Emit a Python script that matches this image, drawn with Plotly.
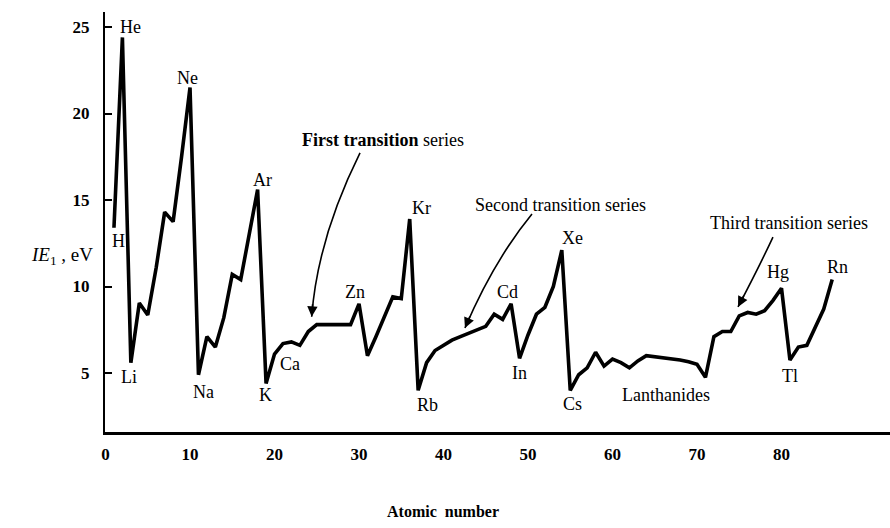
import plotly.graph_objects as go

# ---- data ----
atomic_number = list(range(1, 87))
symbols = ["H","He","Li","Be","B","C","N","O","F","Ne","Na","Mg","Al","Si","P","S","Cl","Ar",
           "K","Ca","Sc","Ti","V","Cr","Mn","Fe","Co","Ni","Cu","Zn","Ga","Ge","As","Se","Br","Kr",
           "Rb","Sr","Y","Zr","Nb","Mo","Tc","Ru","Rh","Pd","Ag","Cd","In","Sn","Sb","Te","I","Xe",
           "Cs","Ba","La","Ce","Pr","Nd","Pm","Sm","Eu","Gd","Tb","Dy","Ho","Er","Tm","Yb","Lu",
           "Hf","Ta","W","Re","Os","Ir","Pt","Au","Hg","Tl","Pb","Bi","Po","At","Rn"]
ie1_ev = [13.4, 24.4,
          5.6, 9.05, 8.35, 11.1, 14.3, 13.75, 17.5, 21.5,
          4.9, 7.1, 6.5, 8.2, 10.7, 10.4, 13.0, 15.6,
          4.4, 6.1, 6.7, 6.8, 6.6, 7.4, 7.8, 7.8, 7.8, 7.8, 7.8, 9.0, 6.0, 7.1, 8.3, 9.4, 9.3, 13.9,
          4.0, 5.6, 6.3, 6.6, 6.9, 7.1, 7.3, 7.5, 7.7, 8.4, 8.1, 9.0, 5.85, 7.2, 8.4, 8.8, 10.0, 12.1,
          4.0, 4.9, 5.3, 6.2, 5.4, 5.8, 5.6, 5.3, 5.7, 6.0, 5.95, 5.9, 5.85, 5.75, 5.65, 5.5, 4.75,
          7.1, 7.4, 7.4, 8.3, 8.5, 8.4, 8.6, 9.2, 9.9, 5.75, 6.5, 6.6, 7.6, 8.7, 10.4]

x_ticks = [0, 10, 20, 30, 40, 50, 60, 70, 80]
y_ticks = [5, 10, 15, 20, 25]

# labels placed in (atomic number, eV) units
label_text = ["He", "Ne", "Ar", "Kr", "Zn", "Cd", "Xe", "Hg", "Rn",
              "H", "Li", "Na", "K", "Ca", "Rb", "In", "Cs", "Tl", "Lanthanides"]
label_x = [2.9, 9.76, 18.52, 37.34, 29.53, 47.63, 55.21, 79.59, 86.57,
           1.48, 2.78, 11.54, 18.88, 21.83, 38.05, 49.05, 55.21, 81.01, 66.33]
label_y = [25.0, 22.05, 16.16, 14.54, 9.68, 9.68, 12.80, 10.84, 11.13,
           12.63, 4.77, 3.90, 3.73, 5.52, 3.15, 5.00, 3.21, 4.83, 3.73]

series_text = ["<b>First transition</b> series", "Second transition series", "Third transition series"]
series_x = [32.84, 53.79, 80.89]
series_y = [18.47, 14.71, 13.67]

# curved arrows: start, control, tip (atomic number, eV) + arrow-head pixel offset
arrows = [
    ((30.12, 17.72), (25.09, 12.77), (24.40, 8.25), (1, -14)),
    ((50.47, 14.19), (45.92, 11.47), (42.54, 7.60), (5.5, -13)),
    ((78.99, 12.86), (77.28, 11.07), (74.85, 8.82), (6.5, -12.5)),
]

SERIF = "Liberation Serif, Times New Roman, serif"

fig = go.Figure()
fig.add_trace(go.Scatter(
    x=atomic_number, y=ie1_ev, mode="lines", text=symbols,
    line=dict(color="black", width=3.6), hoverinfo="text+x+y", showlegend=False))

annotations = []
for t, x, y in zip(label_text, label_x, label_y):
    annotations.append(dict(x=x, y=y, text=t, showarrow=False, xref="x", yref="y",
                            font=dict(family=SERIF, size=18, color="black")))
for t, x, y in zip(series_text, series_x, series_y):
    annotations.append(dict(x=x, y=y, text=t, showarrow=False, xref="x", yref="y",
                            font=dict(family=SERIF, size=18, color="black")))

shapes = []
for p0, c, p2, (ax, ay) in arrows:
    shapes.append(dict(type="path", xref="x", yref="y",
                       path=f"M {p0[0]},{p0[1]} Q {c[0]},{c[1]} {p2[0]},{p2[1]}",
                       line=dict(color="black", width=1.6)))
    annotations.append(dict(x=p2[0], y=p2[1], ax=ax, ay=ay, xref="x", yref="y",
                            text="", showarrow=True, arrowhead=2, arrowsize=1.3,
                            arrowwidth=1.6, arrowcolor="black"))

# axis titles
annotations.append(dict(x=-0.055, y=0.42, xref="paper", yref="paper", xanchor="center",
                        text="<i>IE</i><sub>1</sub> , eV", showarrow=False,
                        font=dict(family=SERIF, size=19, color="black")))
annotations.append(dict(x=0.43, y=-0.19, xref="paper", yref="paper", yanchor="middle",
                        text="<b>Atomic  number</b>", showarrow=False,
                        font=dict(family=SERIF, size=16, color="black")))

fig.update_layout(
    width=890, height=528,
    margin=dict(l=105, r=0, t=12, b=96),
    paper_bgcolor="white", plot_bgcolor="white",
    annotations=annotations, shapes=shapes,
    xaxis=dict(range=[-0.06, 92.84], tickvals=x_ticks, ticks="", showgrid=False,
               zeroline=False, showline=True, linecolor="black", linewidth=3,
               ticklabelstandoff=5,
               tickfont=dict(family=SERIF, size=17, color="black", weight="bold")),
    yaxis=dict(range=[1.59, 25.87], tickvals=y_ticks, ticks="inside", ticklen=7,
               tickwidth=1.5, tickcolor="black", showgrid=False, zeroline=False,
               showline=True, linecolor="black", linewidth=2, ticklabelstandoff=10,
               tickfont=dict(family=SERIF, size=17, color="black", weight="bold")),
)

fig.write_html("out.html")
